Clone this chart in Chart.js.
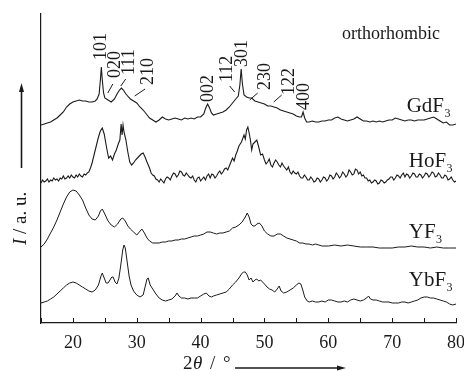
<!DOCTYPE html>
<html><head><meta charset="utf-8">
<script src="https://cdn.jsdelivr.net/npm/chart.js@4.4.0/dist/chart.umd.min.js"></script>
<style>html,body{margin:0;padding:0;background:#fff}canvas{display:block}</style>
</head><body>
<canvas id="c" width="464" height="371"></canvas>
<script>
// ---- data (2θ in degrees, intensity in arbitrary units incl. vertical offset) ----
const gdTheta = [15,15.5,16,16.5,17,17.5,18,18.5,19,19.5,20,20.5,21,21.5,22,22.5,23,23.5,23.8,24.1,24.3,24.45,24.6,24.8,25,25.5,26,26.5,27,27.3,27.6,27.9,28.3,28.7,29,29.5,30,30.5,31,31.5,32,32.5,33,33.5,34,34.5,35,35.5,36,36.5,37,37.5,38,38.5,39,39.5,40,40.5,40.8,41.1,41.4,41.7,42,42.5,43,43.5,44,44.5,45,45.5,45.9,46.15,46.35,46.55,46.8,47.2,47.6,48,48.5,49,49.5,50,50.5,51,51.5,52,52.5,53,53.5,54,54.5,55,55.5,55.8,56.05,56.3,56.6,57,57.5,58,58.5,59,59.5,60,60.5,61,61.5,62,62.5,63,63.5,64,64.5,65,65.5,66,66.5,67,67.5,68,68.5,69,69.5,70,70.5,71,71.5,72,72.5,73,73.5,74,74.5,75,75.5,76,76.5,77,77.5,78,78.5,79,79.5,80];
const gdI = [198,199,200,201,203,205,208,211,216,219,221,222,223,222,222,221,221,222,224,229,243,256,243,230,225,223,221,224,230,233,235,233,229,226,224,222,220,216,213,209,205,203,201,203,206,204,203,204,205,204,203,205,204,205,204,206,206,209,215,219,215,210,208,209,210,211,213,216,220,224,227,238,254,239,228,226,225,225,222,221,220,219,217,217,216,215,213,212,211,210,209,207,206,206,211,205,201,201,202,201,201,202,202,203,203,205,206,204,203,202,203,204,206,204,202,202,201,202,201,202,201,202,203,203,205,204,203,202,203,203,202,203,203,203,204,205,206,204,202,200,201,198,198,199];

const hoTheta = [15,15.25,15.5,15.75,16,16.25,16.5,16.75,17,17.25,17.5,17.75,18,18.25,18.5,18.75,19,19.25,19.5,19.75,20,20.25,20.5,20.75,21,21.25,21.5,21.75,22,22.25,22.5,22.75,23,
  23.5,24,24.3,24.6,24.9,25.2,25.4,25.6,25.9,26.2,26.5,26.8,27.1,27.35,27.55,27.7,27.85,28.0,28.3,28.6,28.9,29.2,29.5,29.8,30.1,30.4,30.7,31.0,31.3,31.6,
  32,32.25,32.5,32.75,33,33.25,33.5,33.75,34,34.25,34.5,34.75,35,35.25,35.5,35.75,36,36.25,36.5,36.75,37,37.25,37.5,37.75,38,38.25,38.5,38.75,39,39.25,39.5,39.75,40,40.25,40.5,40.75,41,41.25,41.5,41.75,42,42.25,42.5,42.75,43,43.25,43.5,43.75,44,44.25,44.5,44.75,45,45.25,45.5,45.75,46,
  46.4,46.8,47.0,47.2,47.4,47.6,47.8,48.0,48.2,48.5,48.8,49.1,49.4,49.7,
  50,50.25,50.5,50.75,51,51.25,51.5,51.75,52,52.25,52.5,52.75,53,53.25,53.5,53.75,54,54.25,54.5,54.75,55,55.25,55.5,55.75,56,56.25,56.5,56.75,57,57.25,57.5,57.75,58,58.25,58.5,58.75,59,59.25,59.5,59.75,60,60.25,60.5,60.75,61,61.25,61.5,61.75,62,62.25,62.5,62.75,63,63.25,63.5,63.75,64,64.25,64.5,64.75,65,65.25,65.5,65.75,66,66.25,66.5,66.75,67,67.25,67.5,67.75,68,68.25,68.5,68.75,69,69.25,69.5,69.75,70,70.25,70.5,70.75,71,71.25,71.5,71.75,72,72.25,72.5,72.75,73,73.25,73.5,73.75,74,74.25,74.5,74.75,75,75.25,75.5,75.75,76,76.25,76.5,76.75,77,77.25,77.5,77.75,78,78.25,78.5,78.75,79,79.25,79.5,79.75,80];
const hoI = [140,143,141,142,144,141,143,142,145,143,144,142,145,144,147,144,145,147,145,148,146,145,148,146,149,147,146,149,148,150,151,155,160,
  173,186,192,195,189,178,171,165,167,163,169,173,179,183,199,188,198,191,183,171,161,158,160,163,165,167,169,170,166,161,
  155,150,148,147,144,143,141,144,142,140,144,146,145,143,147,150,149,146,148,152,151,148,147,150,148,146,145,147,143,141,145,146,142,144,146,143,147,149,145,149,148,145,147,150,152,149,151,154,155,153,157,161,165,162,168,172,177,
  181,188,184,193,196,190,183,173,179,181,183,176,168,169,
  163,159,161,164,158,156,160,163,161,158,156,160,157,155,153,156,151,149,152,150,149,151,147,145,145,148,146,143,143,146,144,141,142,145,144,141,143,146,145,142,144,148,147,144,146,150,148,145,147,151,149,146,148,153,151,148,149,154,153,149,151,147,148,145,145,142,143,140,141,143,142,139,140,143,142,140,141,143,144,146,146,143,145,148,147,145,148,150,146,149,148,145,147,150,149,146,146,149,148,145,147,150,149,146,148,151,150,146,147,150,148,145,145,148,147,143,144,146,143,141,142];

const yfTheta = [15,15.5,16,16.5,17,17.5,18,18.5,19,19.5,20,20.5,21,21.5,22,22.5,23,23.5,24,24.3,24.6,25,25.5,26,26.5,27,27.5,27.8,28.2,28.6,29,29.5,30,30.4,30.8,31.2,31.6,32,32.5,33,33.5,34,34.5,35,35.5,36,36.5,37,37.5,38,38.5,39,39.5,40,40.5,41,41.5,42,42.5,43,43.5,44,44.5,45,45.5,46,46.5,47,47.3,47.6,47.9,48.2,48.5,48.8,49.2,49.6,50,50.5,51,51.5,52,52.5,53,53.5,54,54.5,55,55.5,56,56.5,57,57.5,58,59,60,61,62,63,64,65,66,67,68,69,70,71,72,73,74,75,76,77,78,79,80];
const yfI = [76,79,84,90,96,103,111,119,126,131,133,132,128,123,115,108,104,103,107,112,114,109,102,98,96,99,104,105,102,97,94,91,88,91,94,90,85,82,80,80,80,81,81,82,82,83,83,84,84,85,86,87,87,88,89,91,91,90,89,90,90,91,92,95,96,98,101,106,110,106,99,97,97,99,100,97,92,89,87,87,89,89,87,85,84,83,82,80,80,79,79,78,79,77,77,78,77,78,77,76,76,76,75,75,75,76,76,77,76,76,75,76,75,75,75];

const ybTheta = [15,15.5,16,16.5,17,17.5,18,18.5,19,19.5,20,20.5,21,21.5,22,22.5,23,23.5,24,24.4,24.6,24.9,25.2,25.5,25.8,26.1,26.3,26.6,26.9,27.2,27.5,27.8,28.0,28.2,28.5,28.8,29.1,29.5,30,30.5,31,31.3,31.6,31.8,32.1,32.5,33,33.5,34,34.5,35,35.5,36,36.3,36.6,37,37.5,38,38.5,39,39.5,40,40.5,40.9,41.3,41.7,42,42.5,43,43.5,44,44.5,45,45.5,46,46.4,46.7,47.0,47.3,47.6,47.9,48.2,48.5,48.8,49.1,49.4,49.7,50.0,50.4,50.8,51.2,51.6,52,52.3,52.6,53,53.5,54,54.5,55,55.4,55.7,56,56.3,56.7,57,57.5,58,58.5,59,59.5,60,60.5,61,61.5,62,62.5,63,63.5,64,64.5,65,65.5,66,66.3,66.6,67,67.5,68,68.5,69,69.5,70,70.5,71,71.5,72,72.5,73,73.5,74,74.5,75,75.5,76,76.5,77,77.5,78,78.5,79,79.5,80];
const ybI = [20,21,22,24,26,29,32,35,38,40,41,40,38,36,34,32,31,33,38,47,50,45,40,40,43,46,46,41,39,45,58,73,78,75,61,47,38,32,28,26,28,36,44,45,38,34,29,25,23,22,23,24,27,30,27,25,25,24,25,25,25,27,29,30,27,26,27,28,29,30,31,34,38,41,45,49,51,51,48,43,45,41,43,44,42,43,41,39,36,34,33,31,34,37,32,30,31,33,35,38,40,39,33,26,22,21,22,21,21,22,21,23,23,22,21,21,22,21,23,24,23,22,23,25,27,24,23,23,22,21,21,21,20,20,20,21,21,20,21,22,23,25,26,26,25,25,24,23,22,21,19,18,19];

const seriesNames = ['GdF', 'HoF', 'YF', 'YbF'];
const seriesLabelTheta = [72.27, 72.6, 72.6, 72.6];
const seriesLabelI = [211, 156, 85, 37];

const peakNames = ['101','020','111','210','002','112','301','230','122','400'];
const peakLabelTheta = [24.35, 26.55, 28.6, 31.7, 41.1, 43.95, 46.43, 50.03, 53.79, 56.14];
const peakLabelI = [263, 245, 248, 238, 221, 241, 256, 233, 228, 213];
// leader lines [theta1, I1, theta2, I2]
const leaderLines = [[26.25,239,25.46,230],[28.27,244,27.5,237],[31.3,234,29.67,227],[44.55,237,45.33,231],[48.94,230,47.69,223],[52.7,228,51.45,221]];

const xMin = 15, xMax = 80, xStep = 5;
const yMin = 0, yMax = 309;

const zip = (a, b) => a.slice(0, Math.min(a.length, b.length)).map((t, i) => ({x: t, y: b[i]}));
const serif = '"Liberation Serif", "DejaVu Serif", serif';
const ink = '#1a1a1a';

const deco = {
  id: 'deco',
  afterDraw(chart) {
    const {ctx, scales: {x, y}, chartArea: ca} = chart;
    ctx.save();
    ctx.strokeStyle = ink; ctx.fillStyle = ink;
    // inward ticks on x axis
    ctx.lineWidth = 1;
    for (let t = xMin; t <= xMax; t += xStep) {
      const px = Math.round(x.getPixelForValue(t)) + 0.5;
      ctx.beginPath(); ctx.moveTo(px, ca.bottom); ctx.lineTo(px, ca.bottom - 5); ctx.stroke();
    }
    // peak labels
    ctx.font = '18px ' + serif;
    peakNames.forEach((n, i) => {
      const px = x.getPixelForValue(peakLabelTheta[i]), py = y.getPixelForValue(peakLabelI[i]);
      ctx.save(); ctx.translate(px, py); ctx.rotate(-Math.PI / 2);
      ctx.textAlign = 'left'; ctx.textBaseline = 'middle';
      ctx.fillText(n, 0, 1); ctx.restore();
    });
    ctx.lineWidth = 1;
    leaderLines.forEach(l => {
      ctx.beginPath();
      ctx.moveTo(x.getPixelForValue(l[0]), y.getPixelForValue(l[1]));
      ctx.lineTo(x.getPixelForValue(l[2]), y.getPixelForValue(l[3]));
      ctx.stroke();
    });
    // series labels with subscript 3
    seriesNames.forEach((n, i) => {
      const px = x.getPixelForValue(seriesLabelTheta[i]), py = y.getPixelForValue(seriesLabelI[i]);
      ctx.font = '21px ' + serif; ctx.textAlign = 'left'; ctx.textBaseline = 'alphabetic';
      ctx.fillText(n, px, py);
      const w = ctx.measureText(n).width;
      ctx.font = '12px ' + serif;
      ctx.fillText('3', px + w + 0.5, py + 5);
    });
    // orthorhombic
    ctx.font = '18px ' + serif; ctx.textAlign = 'left'; ctx.textBaseline = 'alphabetic';
    ctx.fillText('orthorhombic', 342, 39);
    // x title: 2θ / °
    const by = 369;
    ctx.font = '19px ' + serif; ctx.fillText('2', 183, by);
    ctx.font = 'italic 19px ' + serif; ctx.fillText('θ', 193, by);
    ctx.font = '19px ' + serif; ctx.fillText('/', 210, by); ctx.fillText('°', 223, by);
    // x arrow
    ctx.lineWidth = 1.6;
    ctx.beginPath(); ctx.moveTo(235, 368); ctx.lineTo(340, 368); ctx.stroke();
    ctx.beginPath(); ctx.moveTo(346, 368); ctx.lineTo(337, 365.5); ctx.lineTo(337, 370.5); ctx.closePath(); ctx.fill();
    // y title: I / a. u.
    ctx.save(); ctx.translate(21, 245); ctx.rotate(-Math.PI / 2);
    ctx.textBaseline = 'middle'; ctx.textAlign = 'left';
    ctx.font = 'italic 19px ' + serif; ctx.fillText('I', 0, 0);
    const iw = ctx.measureText('I').width;
    ctx.font = '19px ' + serif; ctx.fillText(' / a. u.', iw, 0);
    ctx.restore();
    // y arrow
    ctx.lineWidth = 1.6;
    ctx.beginPath(); ctx.moveTo(21.5, 168); ctx.lineTo(21.5, 89); ctx.stroke();
    ctx.beginPath(); ctx.moveTo(21.5, 83); ctx.lineTo(19, 92); ctx.lineTo(24, 92); ctx.closePath(); ctx.fill();
    ctx.restore();
  }
};

const mk = (data, w) => ({data, borderColor: ink, borderWidth: w, pointRadius: 0, tension: 0, fill: false});

new Chart(document.getElementById('c'), {
  type: 'line',
  data: {datasets: [mk(zip(gdTheta, gdI), 1.1), mk(zip(hoTheta, hoI), 1.1), mk(zip(yfTheta, yfI), 1), mk(zip(ybTheta, ybI), 1)]},
  options: {
    responsive: false, animation: false, devicePixelRatio: 1,
    layout: {padding: {left: 0, right: 8, top: 14, bottom: 0}},
    plugins: {legend: {display: false}, tooltip: {enabled: false}},
    scales: {
      x: {
        type: 'linear', min: xMin, max: xMax,
        grid: {display: false, drawTicks: false},
        border: {display: true, color: ink, width: 1.2},
        ticks: {stepSize: xStep, color: ink, font: {family: serif, size: 18}, padding: 9,
          maxRotation: 0, autoSkip: false,
          callback: v => (v % 10 === 0 ? String(v) : '')},
        afterFit: s => { s.height = 48; s.paddingLeft = 0; s.paddingRight = 0; }
      },
      y: {
        type: 'linear', min: yMin, max: yMax,
        grid: {display: false, drawTicks: false},
        border: {display: true, color: ink, width: 1.2},
        ticks: {display: false},
        afterFit: s => { s.width = 41; s.paddingTop = 0; s.paddingBottom = 0; }
      }
    }
  },
  plugins: [deco]
});
</script>
</body></html>
